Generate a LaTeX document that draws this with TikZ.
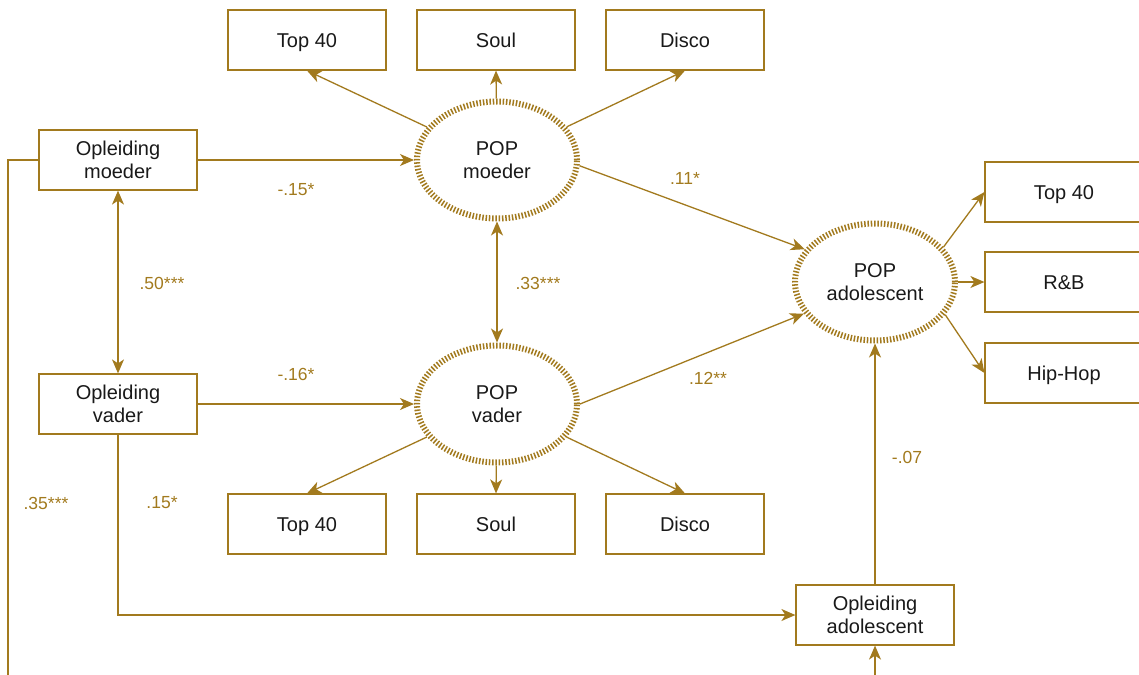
\documentclass[tikz,border=0pt]{standalone}
\usepackage{fontspec}
\setmainfont{Liberation Sans}
\usetikzlibrary{shapes.geometric,arrows.meta}
\definecolor{gold}{RGB}{162,122,30}
\tikzstyle{box}=[draw=gold,line width=1.2pt,minimum width=158pt,minimum height=60pt,align=center,text=black!90,font=\fontsize{20}{22.5}\selectfont]
\tikzstyle{ind}=[box,text height=15pt,text depth=0pt]
\tikzstyle{latent}=[ellipse,draw=gold,line width=6pt,dash pattern=on 1.5pt off 1.8pt,minimum width=160pt,minimum height=117pt,align=center,text=black!90,font=\fontsize{20}{22.5}\selectfont]
\tikzstyle{conn}=[draw=gold,line width=1.3pt]
\tikzstyle{coef}=[text=gold,font=\fontsize{17.5}{19}\selectfont]
\tikzset{>={Stealth[length=14pt,width=12pt,inset=4pt]}}

\begin{document}
\begin{tikzpicture}[x=1pt,y=-1pt]
  \useasboundingbox (0,0) rectangle (1139,674);
  % Latent variables
  \node[latent] (pm) at (497,160) {POP\\moeder};
  \node[latent] (pv) at (497,404) {POP\\vader};
  \node[latent] (pa) at (875,282) {POP\\adolescent};
  % Education
  \node[box] (om) at (118,160) {Opleiding\\moeder};
  \node[box] (ov) at (118,404) {Opleiding\\vader};
  \node[box] (oa) at (875,615) {Opleiding\\adolescent};
  % Indicators
  \node[ind] (mt) at (307,40) {Top 40};
  \node[ind] (ms) at (496,40) {Soul};
  \node[ind] (md) at (685,40) {Disco};
  \node[ind] (vt) at (307,524) {Top 40};
  \node[ind] (vs) at (496,524) {Soul};
  \node[ind] (vd) at (685,524) {Disco};
  \node[ind] (at) at (1064,192) {Top 40};
  \node[ind] (ar) at (1064,282) {R\&B};
  \node[ind] (ah) at (1064,373) {Hip-Hop};
  \coordinate (low) at (8,700);

  \draw[conn,->] (pm) -- (mt.south);
  \draw[conn,->] (pm) -- (ms.south);
  \draw[conn,->] (pm) -- (md.south);
  \draw[conn,->] (pv) -- (vt.north);
  \draw[conn,->] (pv) -- (vs.north);
  \draw[conn,->] (pv) -- (vd.north);
  \draw[conn,->] (pa.27) -- (at.west);
  \draw[conn,->] (pa) -- (ar.west);
  \draw[conn,->] (pa.-25) -- (ah.west);

  \draw[conn,->] (om) -- (pm);
  \draw[conn,->] (ov) -- (pv);
  \draw[conn,<->] (om) -- (ov);
  \draw[conn,<->] (pm) -- (pv);
  \draw[conn,->] (pm.-4) -- (pa.155);
  \draw[conn,->] (pv.east) -- (pa.204);
  \draw[conn,->] (ov.south) |- (oa.west);
  \draw[conn,->] (oa) -- (pa);
  \draw[conn,->] (om.west) -| (low) -| (oa.south);

  % Coefficients
  \node[coef] at (296,190) {-.15*};
  \node[coef] at (296,374) {-.16*};
  \node[coef] at (162,283) {.50***};
  \node[coef] at (538,283) {.33***};
  \node[coef] at (685,178) {.11*};
  \node[coef] at (708,378) {.12**};
  \node[coef] at (162,503) {.15*};
  \node[coef] at (46,503) {.35***};
  \node[coef] at (907,457) {-.07};
\end{tikzpicture}
\end{document}
